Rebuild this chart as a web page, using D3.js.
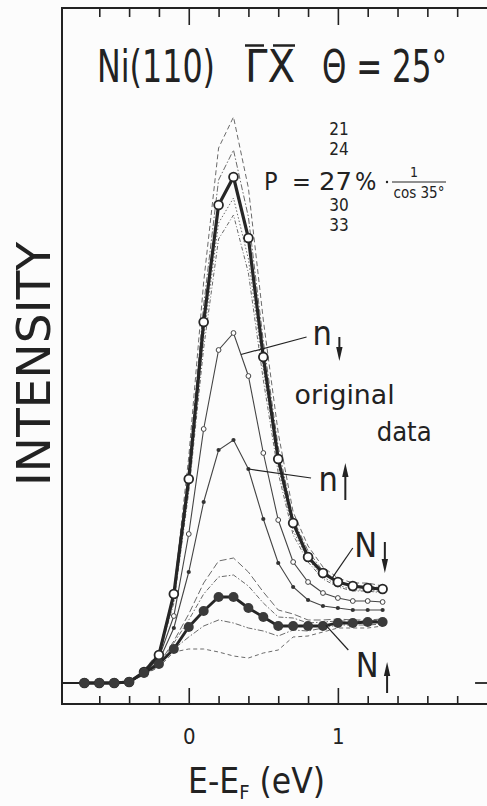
<!DOCTYPE html>
<html>
<head>
<meta charset="utf-8">
<script src="https://cdn.jsdelivr.net/npm/d3@7"></script>
<style>
  html, body { margin: 0; padding: 0; background: #fcfcfc; }
  svg { display: block; }
  text { font-family: "DejaVu Sans Condensed", "DejaVu Sans", sans-serif; fill: #222; }
</style>
</head>
<body>
<svg id="chart" width="487" height="806"></svg>
<script>
// Energy relative to the Fermi level (eV)
const energies = [-0.7, -0.6, -0.5, -0.4, -0.3, -0.2, -0.1, 0.0, 0.1, 0.2, 0.3,
                  0.4, 0.5, 0.6, 0.7, 0.8, 0.9, 1.0, 1.1, 1.2, 1.3];

// Measured spin-resolved intensities (arb. units)
const rawDown = [0, 0, 0, 1, 11, 25, 67, 149, 254, 333, 350, 307, 230, 163, 121, 101, 90, 85, 82, 82, 81];
const rawUp   = [0, 0, 0, 1, 10, 22, 55, 111, 181, 233, 243, 214, 164, 120, 96, 83, 77, 75, 73, 73, 73];

// Partial intensities for P = 27 %
const totalDown = [0, 0, 0, 1, 11, 28, 89, 204, 361, 478, 506, 445, 326, 224, 160, 126, 110, 101, 97, 95, 94];
const totalUp   = [0, 0, 0, 1, 10, 19, 34, 56, 72, 86, 86, 75, 66, 57, 57, 57, 57, 60, 60, 61, 61];

// Partial intensities for the other polarization values
const down21 = [0, 0, 0, 1, 13, 31, 91, 226, 401, 535, 566, 495, 363, 250, 171, 137, 116, 105, 100, 100, 97];
const down24 = [0, 0, 0, 1, 13, 30, 88, 214, 378, 503, 533, 466, 342, 236, 164, 132, 112, 102, 97, 97, 95];
const down30 = [0, 0, 0, 1, 12, 29, 82, 197, 346, 460, 485, 424, 314, 217, 152, 124, 106, 98, 93, 93, 91];
const down33 = [0, 0, 0, 1, 12, 28, 80, 191, 335, 444, 468, 410, 303, 210, 148, 121, 104, 96, 92, 92, 90];
const up21   = [0, 0, 0, 1, 8, 16, 31, 34, 34, 31, 27, 25, 30, 33, 46, 47, 51, 55, 55, 55, 57];
const up24   = [0, 0, 0, 1, 8, 17, 34, 46, 57, 63, 60, 55, 52, 47, 53, 52, 55, 58, 58, 58, 59];
const up30   = [0, 0, 0, 1, 9, 18, 40, 63, 89, 106, 108, 97, 80, 66, 65, 60, 61, 62, 62, 62, 63];
const up33   = [0, 0, 0, 1, 9, 19, 42, 69, 100, 122, 125, 111, 91, 73, 69, 63, 63, 64, 63, 63, 64];

// Axis ticks
const minorTicks = [-0.6, -0.4, -0.2, 0.2, 0.4, 0.6, 0.8, 1.2, 1.4, 1.6, 1.8];
const majorTicks = [0, 1];
const tickLabels = ["0", "1"];

const svg = d3.select("#chart");
const x = d3.scaleLinear().domain([-0.85, 2.0]).range([62, 487]);
const y = d3.scaleLinear().domain([0, 675]).range([683, 8]);
const axisY = 704;

const line = d3.line().x((d, i) => x(energies[i])).y(d => y(d));
const at = (series, e) => {
  const i = d3.bisectLeft(energies, e) - 1;
  const t = (e - energies[i]) / (energies[i + 1] - energies[i]);
  return series[i] + t * (series[i + 1] - series[i]);
};

// Frame
svg.append("path")
  .attr("d", `M${x(2.0)},${y(675)}H${x(-0.85)}V${axisY}H${x(2.0)}`)
  .attr("fill", "none").attr("stroke", "#222").attr("stroke-width", 2);

// Inward ticks on bottom and top edges
const tickStyle = g => {
  g.select(".domain").remove();
  g.selectAll(".tick line").attr("stroke", "#222").attr("stroke-width", 1.6);
};
svg.append("g").attr("transform", `translate(0,${axisY})`)
  .call(d3.axisBottom(x).tickValues(minorTicks).tickSize(-8).tickFormat(""))
  .call(tickStyle);
svg.append("g").attr("transform", `translate(0,${axisY})`)
  .call(d3.axisBottom(x).tickValues(majorTicks).tickSize(-16).tickPadding(24)
    .tickFormat((d, i) => tickLabels[i]))
  .call(tickStyle)
  .call(g => g.selectAll(".tick text")
    .attr("font-size", 22).attr("fill", "#222")
    .style("font-family", '"DejaVu Sans Condensed", "DejaVu Sans", sans-serif'));
svg.append("g").attr("transform", `translate(0,${y(675)})`)
  .call(d3.axisTop(x).tickValues(minorTicks).tickSize(-9).tickFormat(""))
  .call(tickStyle);
svg.append("g").attr("transform", `translate(0,${y(675)})`)
  .call(d3.axisTop(x).tickValues(majorTicks).tickSize(-17).tickFormat(""))
  .call(tickStyle);

// Zero-intensity reference marks
svg.append("line")
  .attr("x1", x(-0.85)).attr("x2", x(energies[0]))
  .attr("y1", y(0)).attr("y2", y(0))
  .attr("stroke", "#222").attr("stroke-width", 2);
svg.append("line")
  .attr("x1", x(1.92)).attr("x2", x(2.0))
  .attr("y1", y(0)).attr("y2", y(0))
  .attr("stroke", "#222").attr("stroke-width", 1.8);

// Curves for the other polarization values
const variants = [
  { data: down21, dash: "5,3" },
  { data: down24, dash: "6,2,1.5,2" },
  { data: down30, dash: "1.5,2" },
  { data: down33, dash: "4,2,1,2" },
  { data: up33, dash: "7,3" },
  { data: up30, dash: "5,2,1.5,2" },
  { data: up24, dash: "6,2,1.5,2" },
  { data: up21, dash: "4,3" }
];
svg.append("g").selectAll("path").data(variants).join("path")
  .attr("d", d => line(d.data))
  .attr("fill", "none").attr("stroke", "#6a6a6a").attr("stroke-width", 1)
  .attr("stroke-dasharray", d => d.dash);

// Measured data
svg.append("path").attr("d", line(rawUp))
  .attr("fill", "none").attr("stroke", "#444").attr("stroke-width", 1.1);
svg.append("path").attr("d", line(rawDown))
  .attr("fill", "none").attr("stroke", "#444").attr("stroke-width", 1.1);
svg.append("g").selectAll("circle").data(rawUp).join("circle")
  .attr("cx", (d, i) => x(energies[i])).attr("cy", d => y(d)).attr("r", 2.1)
  .attr("fill", "#333");
svg.append("g").selectAll("circle").data(rawDown).join("circle")
  .attr("cx", (d, i) => x(energies[i])).attr("cy", d => y(d)).attr("r", 2.4)
  .attr("fill", "#fff").attr("stroke", "#444").attr("stroke-width", 1);

// Partial intensities, P = 27 %
svg.append("path").attr("d", line(totalDown))
  .attr("fill", "none").attr("stroke", "#262626").attr("stroke-width", 3.2);
svg.append("path").attr("d", line(totalUp))
  .attr("fill", "none").attr("stroke", "#262626").attr("stroke-width", 2.8);
svg.append("g").selectAll("circle").data(totalDown).join("circle")
  .attr("cx", (d, i) => x(energies[i])).attr("cy", d => y(d)).attr("r", 4.4)
  .attr("fill", "#fff").attr("stroke", "#262626").attr("stroke-width", 1.8);
svg.append("g").selectAll("circle").data(totalUp).join("circle")
  .attr("cx", (d, i) => x(energies[i])).attr("cy", d => y(d)).attr("r", 5)
  .attr("fill", "#3a3a3a");

// Labels with leader lines and spin arrows
const arrow = (e, from, to) => {
  const xa = x(e), y0 = y(from), y1 = y(to);
  const dir = y1 > y0 ? 1 : -1;
  svg.append("line").attr("x1", xa).attr("x2", xa).attr("y1", y0).attr("y2", y1 - dir * 8)
    .attr("stroke", "#222").attr("stroke-width", 2);
  svg.append("path")
    .attr("d", `M${xa - 3.2},${y1 - dir * 14}L${xa + 3.2},${y1 - dir * 14}L${xa},${y1}Z`)
    .attr("fill", "#222");
};
const leader = (e0, i0, e1, i1) => svg.append("line")
  .attr("x1", x(e0)).attr("y1", y(i0)).attr("x2", x(e1)).attr("y2", y(i1))
  .attr("stroke", "#222").attr("stroke-width", 1.2);
const label = (txt, e, i, size) => svg.append("text")
  .attr("x", x(e)).attr("y", y(i)).attr("font-size", size).text(txt);

leader(0.35, at(rawDown, 0.35), 0.79, 346);
label("n", 0.83, 338, 34);
arrow(1.01, 346, 322);

leader(0.4, at(rawUp, 0.4), 0.82, 205);
label("n", 0.87, 192, 34);
arrow(1.05, 183, 220);

leader(0.96, at(totalDown, 0.96), 1.1, 135);
label("N", 1.11, 126, 34);
arrow(1.315, 141, 110);

leader(0.92, at(totalUp, 0.92), 1.07, 33);
label("N", 1.12, 6, 34);
arrow(1.33, -10, 21);

label("original", 0.71, 279, 27).attr("textLength", 100).attr("lengthAdjust", "spacingAndGlyphs");
label("data", 1.26, 242, 27).attr("textLength", 55).attr("lengthAdjust", "spacingAndGlyphs");

// Title
svg.append("text").attr("x", 97).attr("y", 82).attr("font-size", 44)
  .attr("textLength", 118).attr("lengthAdjust", "spacingAndGlyphs").text("Ni(110)");
svg.append("text").attr("x", 245).attr("y", 82).attr("font-size", 44)
  .attr("textLength", 50).attr("lengthAdjust", "spacingAndGlyphs").text("ΓX");
svg.append("path").attr("d", "M245,45.5H264M273,45.5H295")
  .attr("stroke", "#222").attr("stroke-width", 2.4);
svg.append("text").attr("x", 322).attr("y", 82).attr("font-size", 44)
  .attr("textLength", 125).attr("lengthAdjust", "spacingAndGlyphs").text("Θ = 25°");

// Polarization annotation
const pFormula = svg.append("g");
pFormula.append("text").attr("x", 264).attr("y", 190).attr("font-size", 25).text("P");
pFormula.append("text").attr("x", 292).attr("y", 190).attr("font-size", 25).text("=");
pFormula.append("text").attr("x", 319).attr("y", 190).attr("font-size", 25)
  .attr("textLength", 33).attr("lengthAdjust", "spacingAndGlyphs").text("27");
pFormula.append("text").attr("x", 355).attr("y", 190).attr("font-size", 25).text("%");
pFormula.append("circle").attr("cx", 387).attr("cy", 182).attr("r", 1.2).attr("fill", "#222");
[["21", 135], ["24", 155], ["30", 211], ["33", 231]].forEach(([t, yy]) =>
  pFormula.append("text").attr("x", 339).attr("y", yy).attr("font-size", 17)
    .attr("text-anchor", "middle").text(t));
pFormula.append("text").attr("x", 414).attr("y", 177).attr("font-size", 14)
  .attr("text-anchor", "middle").text("1");
pFormula.append("line").attr("x1", 392).attr("x2", 446).attr("y1", 182).attr("y2", 182)
  .attr("stroke", "#222").attr("stroke-width", 1);
pFormula.append("text").attr("x", 419).attr("y", 198).attr("font-size", 15)
  .attr("text-anchor", "middle").text("cos 35°");

// Axis titles
svg.append("text").attr("transform", "translate(50,364) rotate(-90)")
  .attr("text-anchor", "middle").attr("font-size", 46)
  .attr("textLength", 244).attr("lengthAdjust", "spacingAndGlyphs").text("INTENSITY");
const xt = svg.append("text").attr("x", 188).attr("y", 793).attr("font-size", 35);
xt.append("tspan").text("E-E");
xt.append("tspan").attr("font-size", 20).attr("dy", 6).text("F");
xt.append("tspan").attr("dy", -6).text(" (eV)");
</script>
</body>
</html>
